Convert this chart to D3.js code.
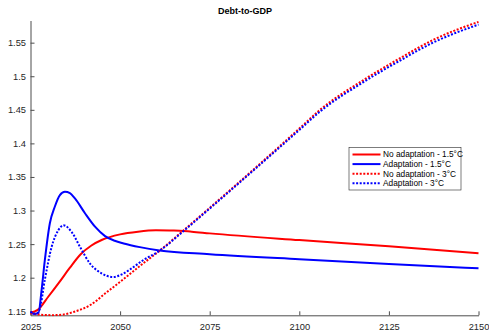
<!DOCTYPE html>
<html>
<head>
<meta charset="utf-8">
<script src="https://cdn.jsdelivr.net/npm/d3@7"></script>
<style>
    body { margin: 0; background: #fff; }
    svg { display: block; font-family: "Liberation Sans", Arial, sans-serif; }
</style>
</head>
<body>
<svg id="chart" width="489" height="332"></svg>
<script>
// values
const yearsNoAd15 = [2025, 2027, 2030, 2033, 2036, 2039, 2042, 2045, 2050, 2055, 2060, 2065, 2070, 2075, 2100, 2125, 2150];
const noAd15 = [1.148, 1.152, 1.172, 1.193, 1.215, 1.235, 1.248, 1.2565, 1.2645, 1.2685, 1.2705, 1.2703, 1.2685, 1.266, 1.256, 1.247, 1.2365];

const yearsAd15 = [2025, 2026, 2027.2, 2028.1, 2029, 2030.4, 2031.8, 2033.2, 2034.6, 2036, 2037.4, 2040.2, 2043, 2045.8, 2048.5, 2051, 2055.5, 2061, 2075, 2100, 2125, 2150];
const ad15 = [1.149, 1.146, 1.147, 1.182, 1.226, 1.281, 1.306, 1.323, 1.328, 1.326, 1.318, 1.296, 1.276, 1.262, 1.255, 1.251, 1.2455, 1.2405, 1.235, 1.2274, 1.2204, 1.214];

const yearsNoAd3 = [2025, 2028, 2031, 2034, 2037, 2041.6, 2046.2, 2050.9, 2055.5, 2061, 2067.6, 2075, 2100, 2105.7, 2117.8, 2128, 2137.3, 2150];
const noAd3 = [1.147, 1.1448, 1.1442, 1.145, 1.149, 1.159, 1.178, 1.1976, 1.2174, 1.240, 1.270, 1.304, 1.422, 1.4496, 1.494, 1.5265, 1.554, 1.581];

const yearsAd3 = [2025, 2026.5, 2027.5, 2029, 2030.9, 2032.8, 2034.2, 2036.5, 2038.8, 2041.6, 2044.8, 2048, 2050.5, 2052.7, 2056.4, 2061, 2067.6, 2075, 2100, 2105.7, 2117.8, 2128, 2137.3, 2150];
const ad3 = [1.149, 1.146, 1.152, 1.197, 1.246, 1.271, 1.278, 1.268, 1.246, 1.221, 1.2066, 1.201, 1.205, 1.212, 1.226, 1.240, 1.269, 1.303, 1.420, 1.447, 1.491, 1.523, 1.550, 1.577];

const xTicks = [2025, 2050, 2075, 2100, 2125, 2150];
const yTicks = [1.15, 1.2, 1.25, 1.3, 1.35, 1.4, 1.45, 1.5, 1.55];

const seriesNames = ["No adaptation - 1.5°C", "Adaptation - 1.5°C", "No adaptation - 3°C", "Adaptation - 3°C"];

const series = [
    { name: seriesNames[0], x: yearsNoAd15, y: noAd15, color: "#ff0000", dash: null },
    { name: seriesNames[1], x: yearsAd15, y: ad15, color: "#0000ff", dash: null },
    { name: seriesNames[2], x: yearsNoAd3, y: noAd3, color: "#ff0000", dash: "2,1.6" },
    { name: seriesNames[3], x: yearsAd3, y: ad3, color: "#0000ff", dash: "2,1.6" }
];

const svg = d3.select("#chart");
const plotLeft = 30.5, plotRight = 478.5, plotTop = 20.5, plotBottom = 315.3;

const x = d3.scaleLinear().domain([2025, 2150]).range([plotLeft, plotRight]);
const y = d3.scaleLinear().domain([1.144, 1.583]).range([plotBottom, plotTop]);

// title
svg.append("text")
    .attr("x", 245)
    .attr("y", 14)
    .attr("text-anchor", "middle")
    .style("font-size", "9px")
    .style("font-weight", "bold")
    .attr("fill", "#000")
    .text("Debt-to-GDP");

// axes, ticks pointing inward like matlab
const xAxis = svg.append("g")
    .attr("transform", `translate(0,${plotBottom})`)
    .call(d3.axisBottom(x).tickValues(xTicks).tickSizeInner(-4).tickSizeOuter(0).tickPadding(8.5).tickFormat(d3.format("d")));

const yAxis = svg.append("g")
    .attr("transform", `translate(${plotLeft},0)`)
    .call(d3.axisLeft(y).tickValues(yTicks).tickSizeInner(-4).tickSizeOuter(0).tickPadding(4.5).tickFormat(d => d3.format(".2~f")(d)));

[xAxis, yAxis].forEach(g => {
    g.select(".domain").attr("stroke", "#4d4d4d").attr("stroke-width", 1);
    g.selectAll(".tick line").attr("stroke", "#4d4d4d");
    g.selectAll(".tick text")
        .attr("fill", "#262626")
        .style("font-size", "9.3px")
        .style("font-family", "'Liberation Sans', Arial, sans-serif");
});

// curves
const line = d3.line()
    .x(d => x(d[0]))
    .y(d => y(d[1]))
    .curve(d3.curveMonotoneX);

svg.append("defs").append("clipPath")
    .attr("id", "plotClip")
    .append("rect")
    .attr("x", plotLeft - 2).attr("y", plotTop - 2)
    .attr("width", plotRight - plotLeft + 4).attr("height", plotBottom - plotTop + 3);

const plot = svg.append("g").attr("clip-path", "url(#plotClip)");

plot.selectAll(".series")
    .data(series)
    .enter().append("path")
    .attr("class", "series")
    .attr("d", s => line(d3.zip(s.x, s.y)))
    .style("fill", "none")
    .style("stroke", s => s.color)
    .style("stroke-width", 2)
    .style("stroke-dasharray", s => s.dash);

// legend
const legend = svg.append("g").attr("transform", "translate(349,147.5)");

legend.append("rect")
    .attr("width", 112)
    .attr("height", 42.5)
    .attr("fill", "#fff")
    .attr("stroke", "#262626")
    .attr("stroke-width", 0.6);

const item = legend.selectAll(".item")
    .data(series)
    .enter().append("g")
    .attr("class", "item")
    .attr("transform", (d, i) => `translate(0,${7 + i * 9.6})`);

item.append("line")
    .attr("x1", 3.5).attr("x2", 31.5)
    .style("stroke", d => d.color)
    .style("stroke-width", 2)
    .style("stroke-dasharray", d => d.dash);

item.append("text")
    .attr("x", 34)
    .attr("dy", "0.35em")
    .style("font-size", "8.3px")
    .attr("fill", "#000")
    .text(d => d.name);
</script>
</body>
</html>
